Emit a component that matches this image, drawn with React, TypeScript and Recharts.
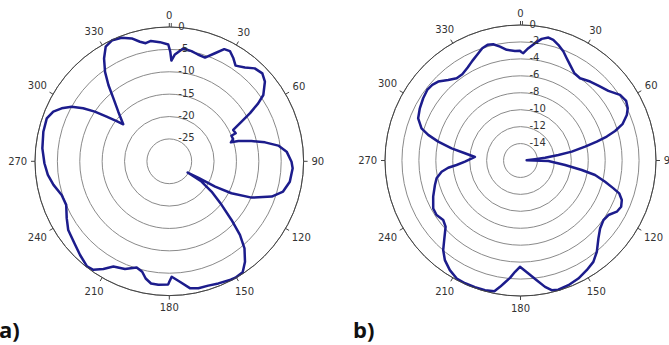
import React from 'react';
import { RadarChart, PolarGrid, PolarAngleAxis, PolarRadiusAxis, Radar } from 'recharts';

// (a) pattern, angle in degrees clockwise from top, gain in dB
const anglesA = [
  0.5, 1.2, 3, 7, 11.4, 15, 19, 22.9, 26.1, 28.8, 31.9, 34.7, 38.9, 42.6, 46.6, 50.2, 54.8, 56.9, 59.2, 61.3,
  63.9, 67.1, 67.6, 70.8, 72.9, 73.6, 76.1, 78.8, 81.8, 85.3, 90.2, 93.2, 99.6, 104.9, 109, 113.8, 117.2, 119,
  119.5, 121.5, 122.2, 125.6, 129.8, 133.3, 136.2, 139.2, 143, 146.5, 150.4, 152.6, 158.1, 162.6, 167.1, 170.8,
  175, 178.8, 180, 180.5, 185.1, 188.5, 191.4, 193.8, 197.1, 202.4, 208, 211.5, 215, 218.1, 223.6, 229.2, 235.8,
  241, 247.1, 252.6, 258.5, 263.6, 269.1, 275.8, 283.2, 289.3, 293.2, 296.2, 299.2, 301.6, 303.7, 305.5, 307.4,
  308.8, 314.2, 318.4, 321.4, 324.3, 327.6, 331, 334.8, 338.9, 343, 346.2, 348.7, 351.3, 355.5, 359.5,
];
const gainA = [
  -5.5, -7.5, -6.1, -4.6, -4.9, -5.3, -5.5, -3.8, -2.1, -1.9, -2.9, -4.0, -3.1, -1.8, -1.4, -2.2, -4.3, -6.3, -9.0, -11.6,
  -14.1, -13.9, -15.0, -14.9, -15.6, -13.9, -11.1, -8.2, -5.4, -3.7, -2.7, -2.4, -2.7, -3.7, -5.8, -9.9, -14.4, -18.3,
  -22.5, -25.2, -21.5, -18.4, -14.8, -10.9, -7.2, -4.3, -1.9, -0.3, -0.1, -0.2, -0.6, -0.9, -0.9, -1.3,
  -3.0, -4.2, -3.1, -2.5, -2.3, -2.4, -3.3, -4.6, -5.2, -4.0, -3.4, -1.8, -0.4, -0.2, -1.1, -2.0, -2.7,
  -3.8, -5.0, -4.8, -3.6, -2.7, -2.1, -1.5, -1.1, -1.0, -1.8, -3.2, -5.0, -7.4, -10.0, -12.8, -15.2,
  -16.8, -14.1, -11.2, -8.2, -5.4, -2.8, -0.7, -0.1, -0.4, -1.3, -2.5, -3.1, -2.8, -3.3, -3.9,
];

// (b) pattern
const anglesB = [
  0.6, 1.5, 4, 7.05, 9.9, 12.8, 15.2, 18.1, 21.5, 24.3, 27.4, 31.7, 35.9, 41.4, 46.1, 51.6, 56.6, 60.6, 64, 66.8,
  70.4, 72.7, 74.5, 76.1, 77.9, 80.2, 81.7, 83.4, 84.6, 88.2, 91, 95.8, 98.8, 101, 104.1, 106.7, 108.4, 111.3,
  114.7, 118, 121.8, 125.7, 130.5, 135, 140.1, 144.3, 148.9, 153.9, 159, 163.7, 166.5, 169, 172.3, 176, 180.3,
  182.8, 185.1, 187.3, 189.2, 191.3, 195.3, 199.8, 204.3, 208.4, 212.8, 217.2, 220.8, 223.8, 228.5, 232.4, 237,
  241.2, 247.5, 254, 258, 261.9, 264.3, 266, 268.8, 274.4, 277.4, 280, 282.9, 285.5, 288, 292.4, 297.4, 302.6,
  307.1, 310.6, 313.8, 318.1, 322.2, 326, 330.4, 334.2, 338, 341.2, 344.1, 346.8, 349.8, 352.9, 357.1, 359.7,
];
const gainB = [
  -3.21, -3.33, -2.71, -2.04, -1.42, -1.11, -1.23, -1.63, -2.17, -2.75, -3.28, -3.89, -4.01, -3.57, -3.24, -2.76, -1.92, -1.68, -1.91, -2.34,
  -3.22, -4.3, -5.43, -6.72, -8.2, -9.86, -11.48, -13.08, -14.28, -15.27, -12.71, -10.71, -8.68, -7.03, -5.7, -4.54, -3.72, -3.16,
  -2.92, -3.12, -3.78, -3.94, -3.64, -2.99, -1.95, -1.26, -0.87, -0.48, -0.23, -0.1, -0.25, -0.8, -1.74, -2.63, -3.45,
  -2.84, -2.09, -1.48, -0.89, -0.26, -0.13, -0.11, -0.1, -0.16, -0.6, -1.23, -2.03, -2.98, -4.19, -4.48, -4.18,
  -4.24, -4.84, -5.49, -5.87, -6.59, -7.42, -8.43, -9.44, -10.6, -9.38, -7.74, -6.03, -4.69, -3.71, -2.93, -2.61, -2.36,
  -2.19, -2.28, -2.54, -3.22, -3.7, -3.71, -3.37, -2.93, -2.47, -1.99, -1.8, -1.9, -2.33, -2.83, -3.04, -3.05,
];

const angleTicks = [0, 30, 60, 90, 120, 150, 180, 210, 240, 270, 300, 330];
const domainA = [-30, 0];
const domainB = [-16, 0];

const dataA = anglesA.map((angle, i) => ({ angle, gain: gainA[i] }));
const dataB = anglesB.map((angle, i) => ({ angle, gain: gainB[i] }));

const LINE = '#1c1c8c';
const FONT = '"DejaVu Sans", sans-serif';

const AngleTick = (props: any) => {
  const { x, y, payload } = props;
  const v = Number(payload.value);
  if (v >= 360) return <g />;
  const a = ((90 - v) * Math.PI) / 180;
  const c = Math.cos(a);
  const s = Math.sin(a);
  const label = String(v);
  const off = 4 + Math.abs(c) * label.length * 3.1 + Math.abs(s) * 4;
  return (
    <g>
      {v === 0 && <line x1={x + 2} y1={y} x2={x + 2} y2={y + 4} stroke="#555" />}
      <text x={x + off * c} y={y - off * s} textAnchor="middle" dominantBaseline="central"
        fontSize={10} fontFamily={FONT} fill="#333">{label}</text>
    </g>
  );
};

const RingTick = (props: any) => {
  const { x, y, payload, low } = props;
  if (payload.value === low) return <g />;
  return (
    <text x={x + 9} y={y - 1} dominantBaseline="central" fontSize={10} fontFamily={FONT} fill="#333">
      {payload.value}
    </text>
  );
};

const Polar = ({ data, left, width, cx, cy, r, domain, count }: any) => (
  <div style={{ position: 'absolute', left, top: 0 }}>
    <RadarChart width={width} height={345} data={data} cx={cx} cy={cy} outerRadius={r}
      startAngle={90} endAngle={-270} margin={{ top: 0, right: 0, bottom: 0, left: 0 }}>
      <PolarGrid gridType="circle" radialLines={false} stroke="#8a8a8a" />
      <PolarAngleAxis dataKey="angle" type="number" domain={[0, 360]} ticks={angleTicks} tickSize={4}
        axisLineType="circle" axisLine={{ stroke: '#444' }} tickLine={{ stroke: '#444' }}
        tick={(p: any) => <AngleTick {...p} />} />
      <PolarRadiusAxis angle={90} type="number" domain={domain} tickCount={count} axisLine={false} tickLine={false}
        tick={(p: any) => <RingTick {...p} low={domain[0]} />} />
      <Radar dataKey="gain" stroke={LINE} strokeWidth={2.5} fill="none" fillOpacity={0} dot={false}
        strokeLinejoin="round" isAnimationActive={false} />
    </RadarChart>
  </div>
);

export default function App() {
  return (
    <div style={{ position: 'fixed', left: 0, top: 0, width: 669, height: 345, background: '#fff', overflow: 'hidden' }}>
      <Polar data={dataA} left={0} width={340} cx={169.3} cy={161.3} r={134.3} domain={domainA} count={7} />
      <Polar data={dataB} left={340} width={329} cx={180.5} cy={160.5} r={135.5} domain={domainB} count={9} />
      <svg width={669} height={345} style={{ position: 'absolute', left: 0, top: 0, pointerEvents: 'none' }}>
        <text x={-1} y={338} fontSize={22} fontWeight="bold" fontFamily='"Open Sans", sans-serif' fill="#111">a)</text>
        <text x={353} y={338} fontSize={22} fontWeight="bold" fontFamily='"Open Sans", sans-serif' fill="#111">b)</text>
      </svg>
    </div>
  );
}
